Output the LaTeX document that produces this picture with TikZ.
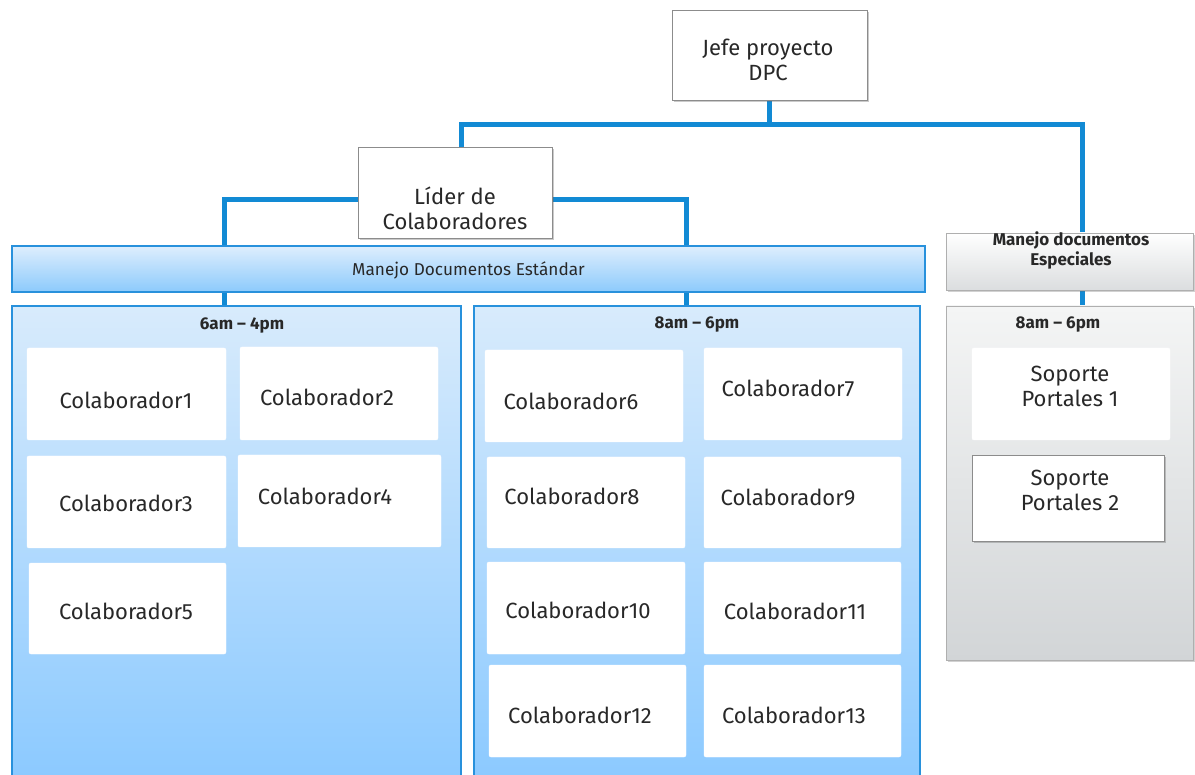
\documentclass[tikz,border=0pt]{standalone}
\usepackage{fontspec}
\setmainfont{Fira Sans}
\usetikzlibrary{shadows}
\definecolor{linkblue}{RGB}{18,138,212}
\definecolor{frameblue}{RGB}{40,145,220}
\definecolor{paneltop}{RGB}{216,235,252}
\definecolor{panelbot}{RGB}{136,200,255}
\definecolor{bartop}{RGB}{222,238,253}
\definecolor{barbot}{RGB}{140,202,252}
\definecolor{graytop}{RGB}{244,245,245}
\definecolor{graybot}{RGB}{210,213,215}
\definecolor{edgegray}{RGB}{140,140,140}
\definecolor{txt}{RGB}{40,40,40}
\pgfdeclarelayer{bg}
\pgfsetlayers{bg,main}
\tikzset{
  x=1pt, y=-1pt,
  every node/.style={inner sep=0pt, outer sep=0pt, text=txt},
  conn/.style={draw=linkblue, line width=5pt},
  headbox/.style={draw=edgegray, line width=0.8pt, fill=white,
    drop shadow={shadow xshift=1.5pt, shadow yshift=-2pt, opacity=0.35, fill=black!60}},
  bluebar/.style={draw=frameblue, line width=1.2pt, top color=bartop, bottom color=barbot},
  bluepanel/.style={draw=frameblue, line width=1.2pt, top color=paneltop, bottom color=panelbot},
  graybox/.style={draw=edgegray!70, line width=0.8pt, top color=white, bottom color=graybot!80,
    drop shadow={shadow xshift=1.5pt, shadow yshift=-2pt, opacity=0.3, fill=black!60}},
  graypanel/.style={draw=edgegray!70, line width=0.8pt, top color=graytop, bottom color=graybot,
    drop shadow={shadow xshift=1.5pt, shadow yshift=-2pt, opacity=0.3, fill=black!60}},
  card/.style={fill=white, rounded corners=2pt, draw=white},
  cardframe/.style={fill=white, draw=edgegray, line width=0.8pt,
    drop shadow={shadow xshift=1.5pt, shadow yshift=-2pt, opacity=0.35, fill=black!60}},
  boxtext/.style={font=\fontsize{22}{25}\selectfont, align=center},
  hours/.style={font=\fontsize{17}{20}\selectfont\bfseries},
  bartext/.style={font=\fontsize{17.2}{20}\selectfont},
  headtext/.style={font=\fontsize{17}{20}\selectfont\bfseries, align=center},
}
% box of given centre and size, with its text at its own position
\newcommand\orgbox[7]{%
  \node[#1, minimum width=#4pt, minimum height=#5pt] (#2) at #3 {};
  \node[boxtext] (#2-t) at #6 {#7};
}
\begin{document}
\begin{tikzpicture}
\useasboundingbox (0,0) rectangle (1195,775);
\clip (0,0) rectangle (1195,775);

% top level
\orgbox{headbox}{jefe}{(769.5,55)}{195}{90}{(768,60)}{Jefe proyecto\\DPC}
\orgbox{headbox}{lider}{(455,192.5)}{194}{91}{(455,208)}{Líder de\\Colaboradores}

% standard documents
\node[bluebar, minimum width=913pt, minimum height=46pt] (std) at (468.5,269) {};
\node[bartext] (std-t) at (468.5,270) {Manejo Documentos Estándar};
\node[bluepanel, minimum width=449pt, minimum height=494pt] (shiftA) at (236.5,553) {};
\node[bluepanel, minimum width=446pt, minimum height=494pt] (shiftB) at (697,553) {};
\node[hours] (shiftA-t) at (242,325) {6am – 4pm};
\node[hours] (shiftB-t) at (697,325) {8am – 6pm};

% special documents
\node[graybox, minimum width=247pt, minimum height=57pt] (esp) at (1069.5,261.5) {};
\node[headtext] (esp-t) at (1071,250) {Manejo documentos\\Especiales};
\node[graypanel, minimum width=247pt, minimum height=354pt] (shiftC) at (1069.5,483) {};
\node[hours] (shiftC-t) at (1058,325) {8am – 6pm};

% first shift
\orgbox{card}{c1}{(126.5,394)}{199}{92}{(126,400)}{Colaborador1}
\orgbox{card}{c2}{(339,393.5)}{198}{93}{(327,397)}{Colaborador2}
\orgbox{card}{c3}{(126.5,502)}{199}{92}{(126,503)}{Colaborador3}
\orgbox{card}{c4}{(339.5,501)}{203}{92}{(325,496)}{Colaborador4}
\orgbox{card}{c5}{(127.5,608.5)}{197}{91}{(126,611)}{Colaborador5}

% second shift
\orgbox{card}{c6}{(584,396)}{198}{92}{(571,401)}{Colaborador6}
\orgbox{card}{c7}{(803,394)}{198}{92}{(788,388)}{Colaborador7}
\orgbox{card}{c8}{(586,502.5)}{198}{91}{(572,496)}{Colaborador8}
\orgbox{card}{c9}{(802.5,502.5)}{197}{91}{(788,497)}{Colaborador9}
\orgbox{card}{c10}{(586,608)}{198}{92}{(578,610)}{Colaborador10}
\orgbox{card}{c11}{(802.5,608)}{197}{92}{(795,611)}{Colaborador11}
\orgbox{card}{c12}{(587.5,711)}{197}{92}{(580,715)}{Colaborador12}
\orgbox{card}{c13}{(802.5,711)}{197}{92}{(794,715)}{Colaborador13}

% special shift
\orgbox{card}{s1}{(1071,394)}{198}{92}{(1070,386)}{Soporte\\Portales 1}
\orgbox{cardframe}{s2}{(1068,498)}{192}{86}{(1070,490)}{Soporte\\Portales 2}

% connectors, behind the boxes
\coordinate (busL) at (461,125);
\coordinate (busR) at (1082,125);
\coordinate (legL) at (224,200);
\coordinate (legR) at (686,200);
\begin{pgfonlayer}{bg}
  \draw[conn] (jefe.south) -- (jefe.south |- busL);
  \draw[conn] (busL |- lider.north) -- (busL) -- (busR) -- (busR |- esp.north);
  \draw[conn] (std.north -| legL) -- (legL) -- (legR) -- (std.north -| legR);
  \draw[conn] (std.south -| legL) -- (shiftA.north -| legL);
  \draw[conn] (std.south -| legR) -- (shiftB.north -| legR);
  \draw[conn] (esp.south -| busR) -- (shiftC.north -| busR);
\end{pgfonlayer}
\end{tikzpicture}
\end{document}
